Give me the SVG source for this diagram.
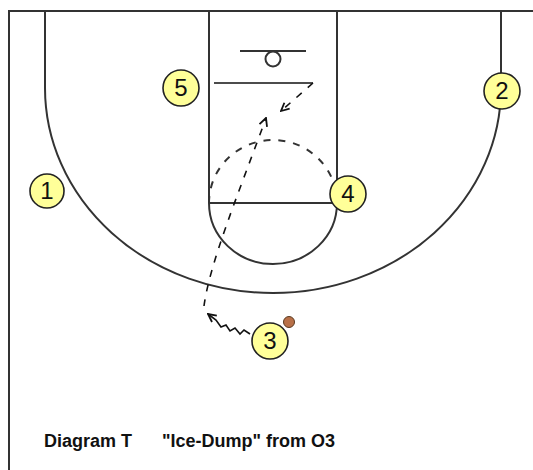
<svg xmlns="http://www.w3.org/2000/svg" width="533" height="470" viewBox="0 0 533 470">
<style>
.court{fill:none;stroke:#333;stroke-width:2}
.mv{fill:none;stroke:#111;stroke-width:1.6}
.dash{stroke-dasharray:7,8}
.pl circle{fill:#ffff99;stroke:#222;stroke-width:1.6}
.pl text{font-family:"Liberation Sans",Arial,sans-serif;font-size:24px;fill:#111;text-anchor:middle}
.title{font-family:"Liberation Sans",Arial,sans-serif;font-size:18px;font-weight:bold;fill:#111}
</style>
<defs>
<marker id="ah" viewBox="0 0 10 10" refX="9" refY="5" markerWidth="10" markerHeight="10" markerUnits="userSpaceOnUse" orient="auto">
<path d="M1,1 L9,5 L1,9" fill="none" stroke="#111" stroke-width="1.8"/>
</marker>
</defs>
<rect width="533" height="470" fill="#fff"/>
<g id="court">
<path class="court" d="M9,470 V11 H533"/>
<path class="court" d="M45,11 V88 A228,205 0 0 0 501,88 V11"/>
<path class="court" d="M209,11 V203 M337,11 V203 M209,203 H337"/>
<path class="court" d="M209,203 A64,61 0 0 0 337,203"/>
<path class="court dash" d="M209,203 A64,63 0 0 1 337,203"/>
<path class="court" d="M240,51 H306"/>
<circle class="court" cx="273" cy="59" r="7.5"/>
</g>
<g id="connectors">
<path class="mv" d="M214,83 H313"/>
<path class="mv dash" d="M313,83 L281,111" marker-end="url(#ah)"/>
<path class="mv dash" d="M204,306 C210,262 238,195 266,118" marker-end="url(#ah)"/>
<path class="mv" d="M250,334 L244,330 L240,334 L235,328 L230,331 L226,325 L221,327 L216,320 L208,314" marker-end="url(#ah)"/>
</g>
<g id="ball"><circle cx="289" cy="322" r="5.5" fill="#b87048" stroke="#5a3a20" stroke-width="1"/></g>
<g id="p1" class="pl"><circle cx="47" cy="191" r="17"/><text x="47" y="199">1</text></g>
<g id="p2" class="pl"><circle cx="502" cy="91" r="18"/><text x="502" y="99">2</text></g>
<g id="p3" class="pl"><circle cx="270" cy="341" r="18"/><text x="270" y="349">3</text></g>
<g id="p4" class="pl"><circle cx="348" cy="194" r="18"/><text x="348" y="202">4</text></g>
<g id="p5" class="pl"><circle cx="181" cy="88" r="18"/><text x="181" y="96">5</text></g>
<g id="title">
<text class="title" x="44" y="447">Diagram T</text>
<text class="title" x="162" y="447">"Ice-Dump" from O3</text>
</g>
</svg>
